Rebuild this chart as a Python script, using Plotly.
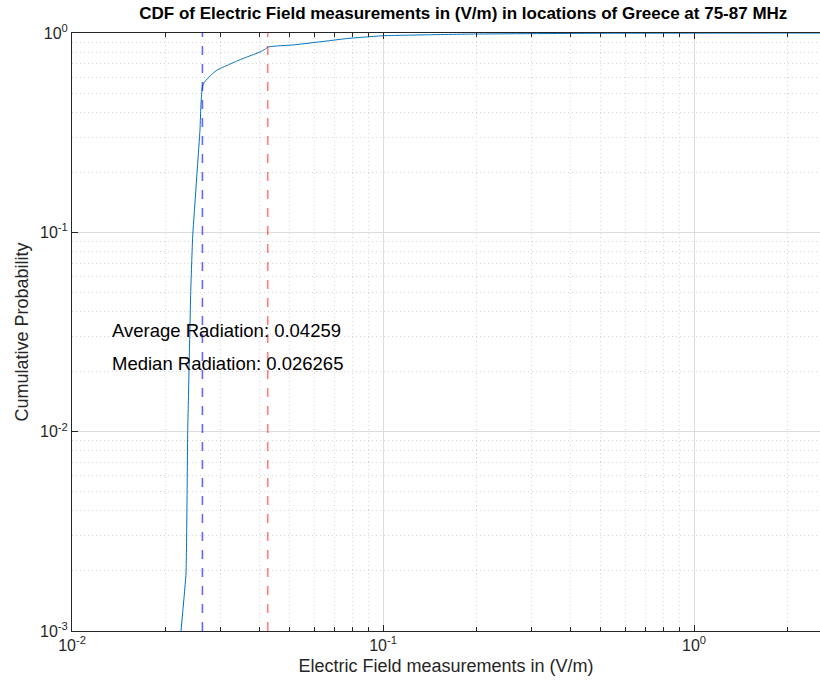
import math
import plotly.graph_objects as go

# Empirical CDF of measured electric field (V/m), 75-87 MHz band
field_vm = [0.02241, 0.02326, 0.02355, 0.02366, 0.02408, 0.02443, 0.02579,
            0.02599, 0.02624, 0.02660, 0.02737, 0.02830, 0.02925, 0.03173,
            0.03400, 0.03653, 0.04023, 0.04180, 0.04268, 0.04600, 0.05136,
            0.06607, 0.07659, 0.1000, 0.1400, 0.2006, 0.498, 2.6]
cum_prob = [0.00100, 0.00195, 0.0100, 0.0139, 0.0496, 0.0947, 0.326,
            0.4455, 0.536, 0.565, 0.594, 0.625, 0.652, 0.691,
            0.725, 0.758, 0.803, 0.830, 0.851, 0.862, 0.871,
            0.912, 0.938, 0.969, 0.980, 0.9885, 0.997, 1.0]

average_radiation = 0.04259
median_radiation = 0.026265

x_tickvals = [0.01, 0.1, 1]
x_ticktext = ["10<sup>-2</sup>", "10<sup>-1</sup>", "10<sup>0</sup>"]
y_tickvals = [0.001, 0.01, 0.1, 1]
y_ticktext = ["10<sup>-3</sup>", "10<sup>-2</sup>", "10<sup>-1</sup>", "10<sup>0</sup>"]

# minor grid positions: 2..9 within each decade
x_minor = [m * 10.0 ** e for e in (-2, -1, 0) for m in range(2, 10)]
y_minor = [m * 10.0 ** e for e in (-3, -2, -1) for m in range(2, 10)]

FONT = "Liberation Sans, Arial, Helvetica, sans-serif"
AXIS_COLOR = "#262626"

fig = go.Figure()
fig.add_trace(go.Scatter(x=field_vm, y=cum_prob, mode="lines",
                         line=dict(color="#0072BD", width=1, shape="spline", smoothing=0.3),
                         showlegend=False))
fig.add_trace(go.Scatter(x=[median_radiation, median_radiation], y=[1e-3, 1],
                         mode="lines", line=dict(color="rgba(0,0,255,0.6)", width=1.6, dash="dash"),
                         showlegend=False))
fig.add_trace(go.Scatter(x=[average_radiation, average_radiation], y=[1e-3, 1],
                         mode="lines", line=dict(color="rgba(255,0,0,0.5)", width=1.6, dash="dash"),
                         showlegend=False))

fig.add_annotation(x=math.log10(0.0132), y=math.log10(0.032), xref="x", yref="y",
                   text=f"Average Radiation: {average_radiation}", showarrow=False,
                   xanchor="left", yanchor="middle", font=dict(family=FONT, size=18.5, color="black"))
fig.add_annotation(x=math.log10(0.0132), y=math.log10(0.0221), xref="x", yref="y",
                   text=f"Median Radiation: {median_radiation}", showarrow=False,
                   xanchor="left", yanchor="middle", font=dict(family=FONT, size=18.5, color="black"))

axis_common = dict(
    type="log", showline=True, linecolor=AXIS_COLOR, linewidth=1,
    ticks="inside", ticklen=6, tickcolor=AXIS_COLOR, tickfont=dict(family=FONT, size=16, color=AXIS_COLOR),
    showgrid=True, gridcolor="#dcdcdc", gridwidth=1, zeroline=False,
)

fig.update_xaxes(range=[-2, 0.405], tickvals=x_tickvals, ticktext=x_ticktext, mirror="ticks",
                 minor=dict(tickvals=x_minor, ticks="inside", ticklen=4, tickcolor=AXIS_COLOR,
                            showgrid=True, gridcolor="#d6d6d6", griddash="1px,3px", gridwidth=1),
                 title=dict(text="Electric Field measurements in (V/m)",
                            font=dict(family=FONT, size=18, color=AXIS_COLOR), standoff=6),
                 **axis_common)
fig.update_yaxes(range=[-3, 0], tickvals=y_tickvals, ticktext=y_ticktext, mirror=False,
                 minor=dict(tickvals=y_minor, ticks="", showgrid=True,
                            gridcolor="#d6d6d6", griddash="1px,3px", gridwidth=1),
                 title=dict(text="Cumulative Probability",
                            font=dict(family=FONT, size=18, color=AXIS_COLOR), standoff=6),
                 **axis_common)

fig.update_layout(
    width=820, height=686,
    margin=dict(l=72, r=0, t=33, b=55),
    plot_bgcolor="white", paper_bgcolor="white",
    title=dict(text="<b>CDF of Electric Field measurements in (V/m) in locations of Greece at 75-87 MHz</b>",
               x=0.565, xanchor="center", y=0.99, yanchor="top",
               font=dict(family=FONT, size=17, color="black")),
    font=dict(family=FONT),
)

fig.write_html("out.html")
